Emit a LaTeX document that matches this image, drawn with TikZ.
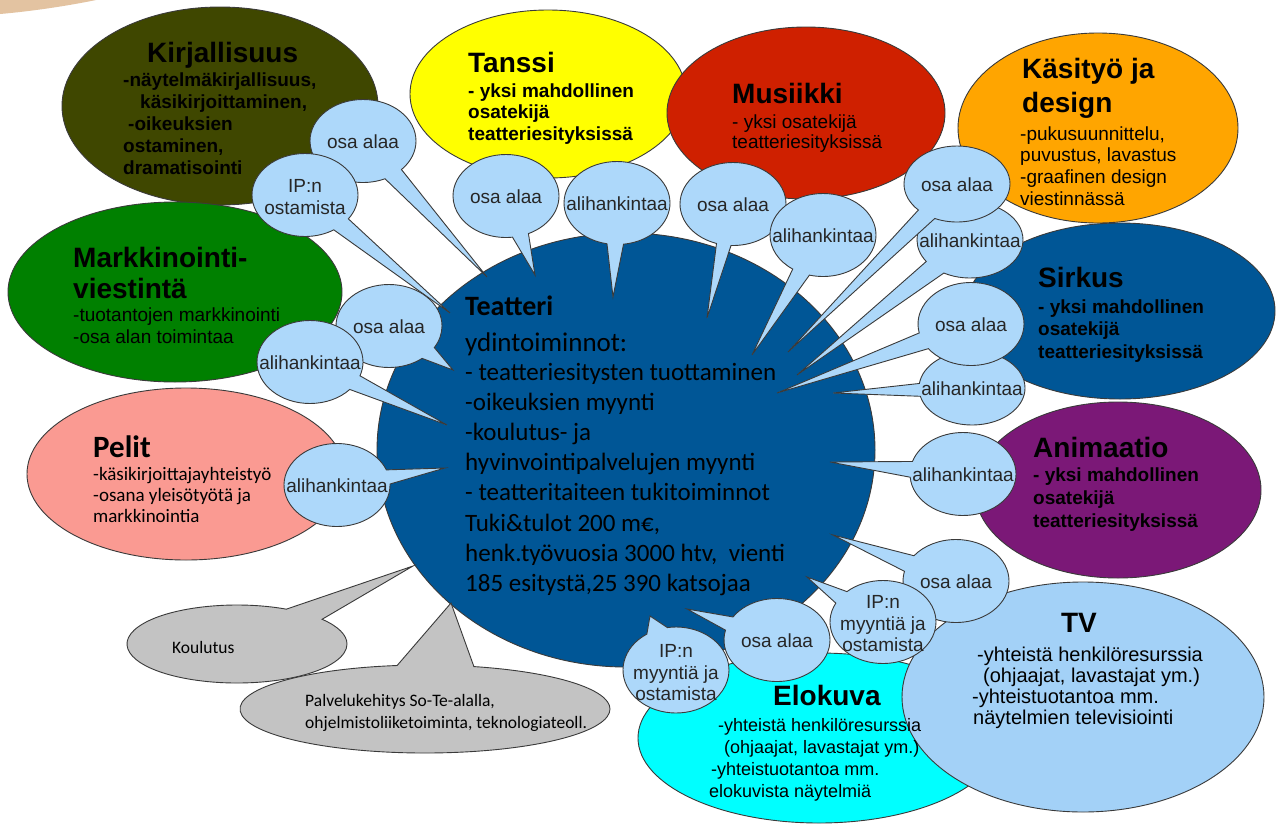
\documentclass[tikz,border=0pt]{standalone}
\usepackage{fontspec}
\setmainfont{Liberation Sans}
\newfontfamily\calib{Carlito}
\usetikzlibrary{shapes.geometric,shapes.callouts}
\definecolor{cKirj}{HTML}{3F4700}
\definecolor{cTanssi}{HTML}{FFFF00}
\definecolor{cMus}{HTML}{CF2000}
\definecolor{cKas}{HTML}{FFA500}
\definecolor{cSirk}{HTML}{005696}
\definecolor{cAnim}{HTML}{7B1877}
\definecolor{cTV}{HTML}{A3D1F7}
\definecolor{cElo}{HTML}{00FFFF}
\definecolor{cMark}{HTML}{008000}
\definecolor{cPel}{HTML}{FA9A92}
\definecolor{cTeat}{HTML}{005696}
\definecolor{cBub}{HTML}{ADD8FA}
\definecolor{cGray}{HTML}{C3C3C3}
\definecolor{cTan}{HTML}{E3C3A1}
\definecolor{cLine}{HTML}{3A3A3A}
\tikzset{
  catshape/.style={ellipse, draw=cLine, line width=0.9pt, inner sep=0pt, outer sep=0pt},
  bubshape/.style={ellipse callout, draw=cLine, line width=0.9pt, fill=cBub, inner sep=0pt, outer sep=0pt, minimum width=106pt, minimum height=83pt, callout pointer arc=20},
  grayshape/.style={ellipse callout, draw=cLine, line width=0.9pt, fill=cGray, inner sep=0pt, outer sep=0pt, callout pointer arc=24},
  titletext/.style={anchor=base west, inner sep=0pt, font=\fontsize{28}{32}\selectfont\bfseries},
  bodytext/.style={anchor=base west, inner sep=0pt, font=\fontsize{19}{22}\selectfont},
  bodybold/.style={anchor=base west, inner sep=0pt, font=\fontsize{19}{22}\selectfont\bfseries},
  bubtext/.style={inner sep=0pt, align=center, font=\fontsize{19}{21.5}\selectfont, text=black!85},
  calibtext/.style={anchor=base west, inner sep=0pt, font=\calib\fontsize{19}{22}\selectfont},
}
\begin{document}
\begin{tikzpicture}[x=1pt,y=-1pt]
\useasboundingbox (0,0) rectangle (1282,825);
\fill[white] (0,0) rectangle (1282,825);
\fill[cTan] (0,0) -- (0,14) .. controls (35,11) and (72,5) .. (96,0) -- cycle;

% central theatre
\node[catshape, fill=cTeat, minimum width=498pt, minimum height=434pt] (teat) at (626,450) {};

% Kirjallisuus
\node[catshape, fill=cKirj, minimum width=316pt, minimum height=198pt] (kirj) at (220,106) {};
\node[titletext] (kirjT) at (147,62) {Kirjallisuus};
\foreach \dx/\t [count=\i] in {0/{-näytelmäkirjallisuus,},17/{käsikirjoittaminen,},5/{-oikeuksien},0/{ostaminen,},0/{dramatisointi}}
  \node[bodybold] (kirjL\i) at (123+\dx,64+22*\i) {\t};

% Markkinointi
\node[catshape, fill=cMark, minimum width=334pt, minimum height=180pt] (mark) at (175,292) {};
\node[titletext] (markT1) at (73,267) {Markkinointi-};
\node[titletext] (markT2) at (73,298) {viestintä};
\node[bodytext] (markL1) at (73,321) {-tuotantojen markkinointi};
\node[bodytext] (markL2) at (73,343) {-osa alan toimintaa};

% Pelit
\node[catshape, fill=cPel, minimum width=318pt, minimum height=172pt] (pel) at (186,474) {};
\node[anchor=base west, inner sep=0pt, font=\calib\fontsize{31}{34}\selectfont\bfseries] (pelT) at (93,457) {Pelit};
\foreach \t [count=\i] in {-käsikirjoittajayhteistyö,-osana yleisötyötä ja,markkinointia}
  \node[calibtext] (pelL\i) at (93,459+21*\i) {\t};

% Tanssi
\node[catshape, fill=cTanssi, minimum width=276pt, minimum height=168pt] (tan) at (548,94) {};
\node[titletext] (tanT) at (468,72) {Tanssi};
\foreach \t [count=\i] in {- yksi mahdollinen,osatekijä,teatteriesityksissä}
  \node[bodybold] (tanL\i) at (468,75.5+21.5*\i) {\t};

% Musiikki
\node[catshape, fill=cMus, minimum width=278pt, minimum height=172pt] (mus) at (806,113) {};
\node[titletext] (musT) at (732,103) {Musiikki};
\node[bodytext] (musL1) at (732,128) {- yksi osatekijä};
\node[bodytext] (musL2) at (732,148.5) {teatteriesityksissä};

% Sirkus
\node[catshape, fill=cSirk, minimum width=310pt, minimum height=176pt] (sir) at (1120,311) {};
\node[titletext] (sirT) at (1038,287) {Sirkus};
\foreach \t [count=\i] in {- yksi mahdollinen,osatekijä,teatteriesityksissä}
  \node[bodybold] (sirL\i) at (1038,290.5+22.5*\i) {\t};

% Kasityo
\node[catshape, fill=cKas, minimum width=280pt, minimum height=190pt] (kas) at (1098,128) {};
\node[titletext] (kasT1) at (1022,78) {Käsityö ja};
\node[titletext] (kasT2) at (1022,112) {design};
\foreach \t [count=\i] in {{-pukusuunnittelu,},{puvustus, lavastus},-graafinen design,viestinnässä}
  \node[bodytext] (kasL\i) at (1020,118.3+21.7*\i) {\t};

% Animaatio
\node[catshape, fill=cAnim, minimum width=286pt, minimum height=176pt] (ani) at (1118,490) {};
\node[titletext] (aniT) at (1033,457) {Animaatio};
\foreach \t [count=\i] in {- yksi mahdollinen,osatekijä,teatteriesityksissä}
  \node[bodybold] (aniL\i) at (1033,458+23*\i) {\t};

% Elokuva and TV shapes
\node[catshape, fill=cElo, minimum width=362pt, minimum height=170pt] (elo) at (819,738) {};
\node[catshape, fill=cTV, minimum width=362pt, minimum height=230pt] (tv) at (1083,697) {};

% Elokuva text
\node[titletext] (eloT) at (773,705) {Elokuva};
\foreach \dx/\t [count=\i] in {0/-yhteistä henkilöresurssia,6/{(ohjaajat, lavastajat ym.)},-7/-yhteistuotantoa mm.,-9/elokuvista näytelmiä}
  \node[bodytext, font=\fontsize{18}{21}\selectfont] (eloL\i) at (718+\dx,709+22*\i) {\t};

% TV text
\node[titletext, anchor=base] (tvT) at (1079,632) {TV};
\foreach \dx/\t [count=\i] in {0/-yhteistä henkilöresurssia,6/{(ohjaajat, lavastajat ym.)},-5/-yhteistuotantoa mm.,-4/näytelmien televisiointi}
  \node[bodytext, font=\fontsize{20}{22}\selectfont] (tvL\i) at (977+\dx,640+21*\i) {\t};

% grey callouts
\coordinate (pk) at (413,566);
\node[grayshape, minimum width=220pt, minimum height=78pt, callout absolute pointer={(pk)}] (koul) at (237,644) {};
\node[anchor=base west, inner sep=0pt, font=\calib\fontsize{17.5}{22}\selectfont] (koulT) at (172,653) {Koulutus};
\coordinate (pp) at (451,603);
\node[grayshape, minimum width=370pt, minimum height=88pt, callout absolute pointer={(pp)}] (palv) at (425,709) {};
\node[anchor=base west, inner sep=0pt, font=\calib\fontsize{17.5}{22}\selectfont] (palvT1) at (305,706.5) {Palvelukehitys So-Te-alalla,};
\node[anchor=base west, inner sep=0pt, font=\calib\fontsize{17.5}{22}\selectfont] (palvT2) at (305,728.5) {ohjelmistoliiketoiminta, teknologiateoll.};

% speech bubbles
\coordinate (t1) at (487,277);
\coordinate (t2) at (450,313);
\coordinate (t3) at (535,275);
\coordinate (t4) at (613,297);
\coordinate (t5) at (707,318);
\coordinate (t6) at (752,355);
\coordinate (t7) at (788,352);
\coordinate (t8) at (797,375);
\coordinate (t9) at (777,393);
\coordinate (t10) at (833,393);
\coordinate (t11) at (453,370);
\coordinate (t12) at (447,425);
\coordinate (t13) at (445,468);
\coordinate (t14) at (830,462);
\coordinate (t15) at (833,535);
\coordinate (t16) at (807,577);
\coordinate (t17) at (687,609);
\coordinate (t18) at (650,616);

\node[bubshape, callout pointer arc=22, callout absolute pointer={(t1)}] (b1) at (363,141) {};
\node[bubtext] (b1t) at (363,142) {osa alaa};
\node[bubshape, callout pointer arc=22, callout absolute pointer={(t2)}] (b2) at (305,195) {};
\node[bubtext] (b2t) at (305,197) {IP:n\\ostamista};
\node[bubshape, callout pointer arc=18, callout absolute pointer={(t3)}] (b3) at (506,196) {};
\node[bubtext] (b3t) at (506,197) {osa alaa};
\node[bubshape, callout pointer arc=18, callout absolute pointer={(t4)}] (b4) at (617,203) {};
\node[bubtext] (b4t) at (617,204) {alihankintaa};
\node[bubshape, callout pointer arc=16, callout absolute pointer={(t5)}] (b5) at (733,204) {};
\node[bubtext] (b5t) at (733,205) {osa alaa};
\node[bubshape, callout pointer arc=20, callout absolute pointer={(t6)}] (b6) at (823,235) {};
\node[bubtext] (b6t) at (823,236) {alihankintaa};
\node[bubshape, minimum height=76pt, callout pointer arc=26, callout absolute pointer={(t8)}] (b8) at (970,240) {};
\node[bubtext] (b8t) at (970,241) {alihankintaa};
\node[bubshape, minimum height=76pt, callout pointer arc=22, callout absolute pointer={(t7)}] (b7) at (957,184) {};
\node[bubtext] (b7t) at (957,185) {osa alaa};
\node[bubshape, minimum height=74pt, callout pointer arc=20, callout absolute pointer={(t10)}] (b10) at (972,388) {};
\node[bubtext] (b10t) at (972,389) {alihankintaa};
\node[bubshape, callout pointer arc=24, callout absolute pointer={(t9)}] (b9) at (971,324) {};
\node[bubtext] (b9t) at (971,325) {osa alaa};
\node[bubshape, callout pointer arc=20, callout absolute pointer={(t11)}] (b11) at (389,326) {};
\node[bubtext] (b11t) at (389,327) {osa alaa};
\node[bubshape, callout pointer arc=22, callout absolute pointer={(t12)}] (b12) at (310,362) {};
\node[bubtext] (b12t) at (310,363) {alihankintaa};
\node[bubshape, callout pointer arc=20, callout absolute pointer={(t13)}] (b13) at (337,485) {};
\node[bubtext] (b13t) at (337,486) {alihankintaa};
\node[bubshape, callout pointer arc=22, callout absolute pointer={(t14)}] (b14) at (963,474) {};
\node[bubtext] (b14t) at (963,475) {alihankintaa};
\node[bubshape, callout pointer arc=20, callout absolute pointer={(t17)}] (b17) at (777,640) {};
\node[bubtext] (b17t) at (777,641) {osa alaa};
\node[bubshape, minimum height=86pt, callout pointer arc=24, callout absolute pointer={(t18)}] (b18) at (676,670) {};
\node[bubtext] (b18t) at (676,673) {IP:n\\myyntiä ja\\ostamista};
\node[bubshape, callout pointer arc=24, callout absolute pointer={(t15)}] (b15) at (956,581) {};
\node[bubtext] (b15t) at (956,582) {osa alaa};
\node[bubshape, callout pointer arc=20, callout absolute pointer={(t16)}] (b16) at (883,622) {};
\node[bubtext] (b16t) at (883,624) {IP:n\\myyntiä ja\\ostamista};

% theatre text
\node[anchor=base west, inner sep=0pt, font=\calib\fontsize{28}{30}\selectfont\bfseries] (teatT1) at (465,315) {Teatteri};
\node[anchor=base west, inner sep=0pt, font=\calib\fontsize{27}{30}\selectfont] (teatT2) at (465,351) {ydintoiminnot:};
\foreach \t [count=\i] in {- teatteriesitysten tuottaminen,-oikeuksien myynti,-koulutus- ja,hyvinvointipalvelujen myynti,- teatteritaiteen tukitoiminnot,{Tuki\&tulot 200 m€,},{henk.työvuosia 3000 htv,~ vienti},{185 esitystä,25 390 katsojaa}}
  \node[anchor=base west, inner sep=0pt, font=\calib\fontsize{25}{30}\selectfont] (teatL\i) at (465,349.8+30.2*\i) {\t};
\end{tikzpicture}
\end{document}
